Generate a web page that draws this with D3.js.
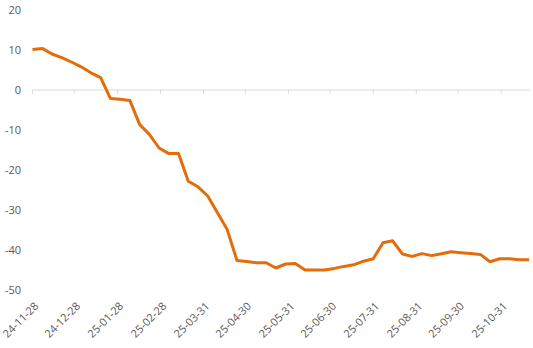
<!DOCTYPE html>
<html>
<head>
<meta charset="utf-8">
<title>Weekly series</title>
<style>
	body { margin: 0; background: #fff; }
	svg text { font-family: "Open Sans", "Noto Sans", sans-serif; font-size: 11px; fill: #595959; }
</style>
</head>
<body>
<div id="chart"></div>
<script src="https://cdn.jsdelivr.net/npm/d3@7/dist/d3.min.js"></script>
<script>
	// weekly readings, first one on 2024-11-28
	var startDate = "2024-11-28";
	var values = [
		10.1, 10.4, 9.0, 8.1, 7.0, 5.8, 4.3, 3.1, -2.1, -2.3,
		-2.6, -8.6, -11.1, -14.5, -15.9, -15.9, -22.8, -24.2, -26.5, -30.7,
		-34.9, -42.6, -42.9, -43.2, -43.2, -44.5, -43.5, -43.4, -45.0, -45.0,
		-45.0, -44.6, -44.1, -43.7, -42.8, -42.2, -38.2, -37.7, -41.0, -41.6,
		-40.9, -41.4, -40.95, -40.45, -40.7, -40.9, -41.1, -42.95, -42.2, -42.2,
		-42.45, -42.45
	];
	var tickDates = [
		"2024-11-28", "2024-12-28", "2025-01-28", "2025-02-28", "2025-03-31", "2025-04-30",
		"2025-05-31", "2025-06-30", "2025-07-31", "2025-08-31", "2025-09-30", "2025-10-31"
	];
	var yTicks = [20, 10, 0, -10, -20, -30, -40, -50];

	var parse = d3.timeParse("%Y-%m-%d");
	var fmt = d3.timeFormat("%y-%m-%d");
	var t0 = parse(startDate);
	var data = values.map(function (v, i) {
		return { date: d3.timeDay.offset(t0, i * 7), value: v };
	});

	var width = 533, height = 348;

	var svg = d3.select("#chart").append("svg")
		.attr("width", width)
		.attr("height", height);

	var x = d3.scaleTime()
		.domain(d3.extent(data, function (d) { return d.date; }))
		.range([32.5, 529]);

	var y = d3.scaleLinear()
		.domain([-50, 20])
		.range([290, 10]);

	// y labels, no axis line
	svg.append("g")
		.selectAll("text")
		.data(yTicks)
		.enter()
		.append("text")
		.attr("x", 21)
		.attr("y", function (d) { return y(d); })
		.attr("dy", "0.35em")
		.attr("text-anchor", "end")
		.text(function (d) { return d; });

	// zero line with month ticks hanging below it
	var zero = svg.append("g");
	zero.append("line")
		.attr("x1", x.range()[0])
		.attr("x2", 530)
		.attr("y1", y(0))
		.attr("y2", y(0))
		.style("stroke", "#d9d9d9")
		.style("stroke-width", 1);

	zero.selectAll(".tick")
		.data(tickDates.map(parse))
		.enter()
		.append("line")
		.attr("x1", function (d) { return x(d); })
		.attr("x2", function (d) { return x(d); })
		.attr("y1", y(0))
		.attr("y2", y(0) + 4)
		.style("stroke", "#d9d9d9")
		.style("stroke-width", 1);

	// date labels sit at the bottom, rotated
	svg.append("g")
		.selectAll("text")
		.data(tickDates.map(parse))
		.enter()
		.append("text")
		.attr("transform", function (d) {
			return "translate(" + (x(d) + 4) + ",304) rotate(-45)";
		})
		.attr("text-anchor", "end")
		.attr("dy", "0.35em")
		.text(function (d) { return fmt(d); });

	var line = d3.line()
		.x(function (d) { return x(d.date); })
		.y(function (d) { return y(d.value); });

	svg.append("path")
		.datum(data)
		.attr("d", line)
		.style("fill", "none")
		.style("stroke", "#e46c0a")
		.style("stroke-width", 3)
		.style("stroke-linejoin", "round");
</script>
</body>
</html>
